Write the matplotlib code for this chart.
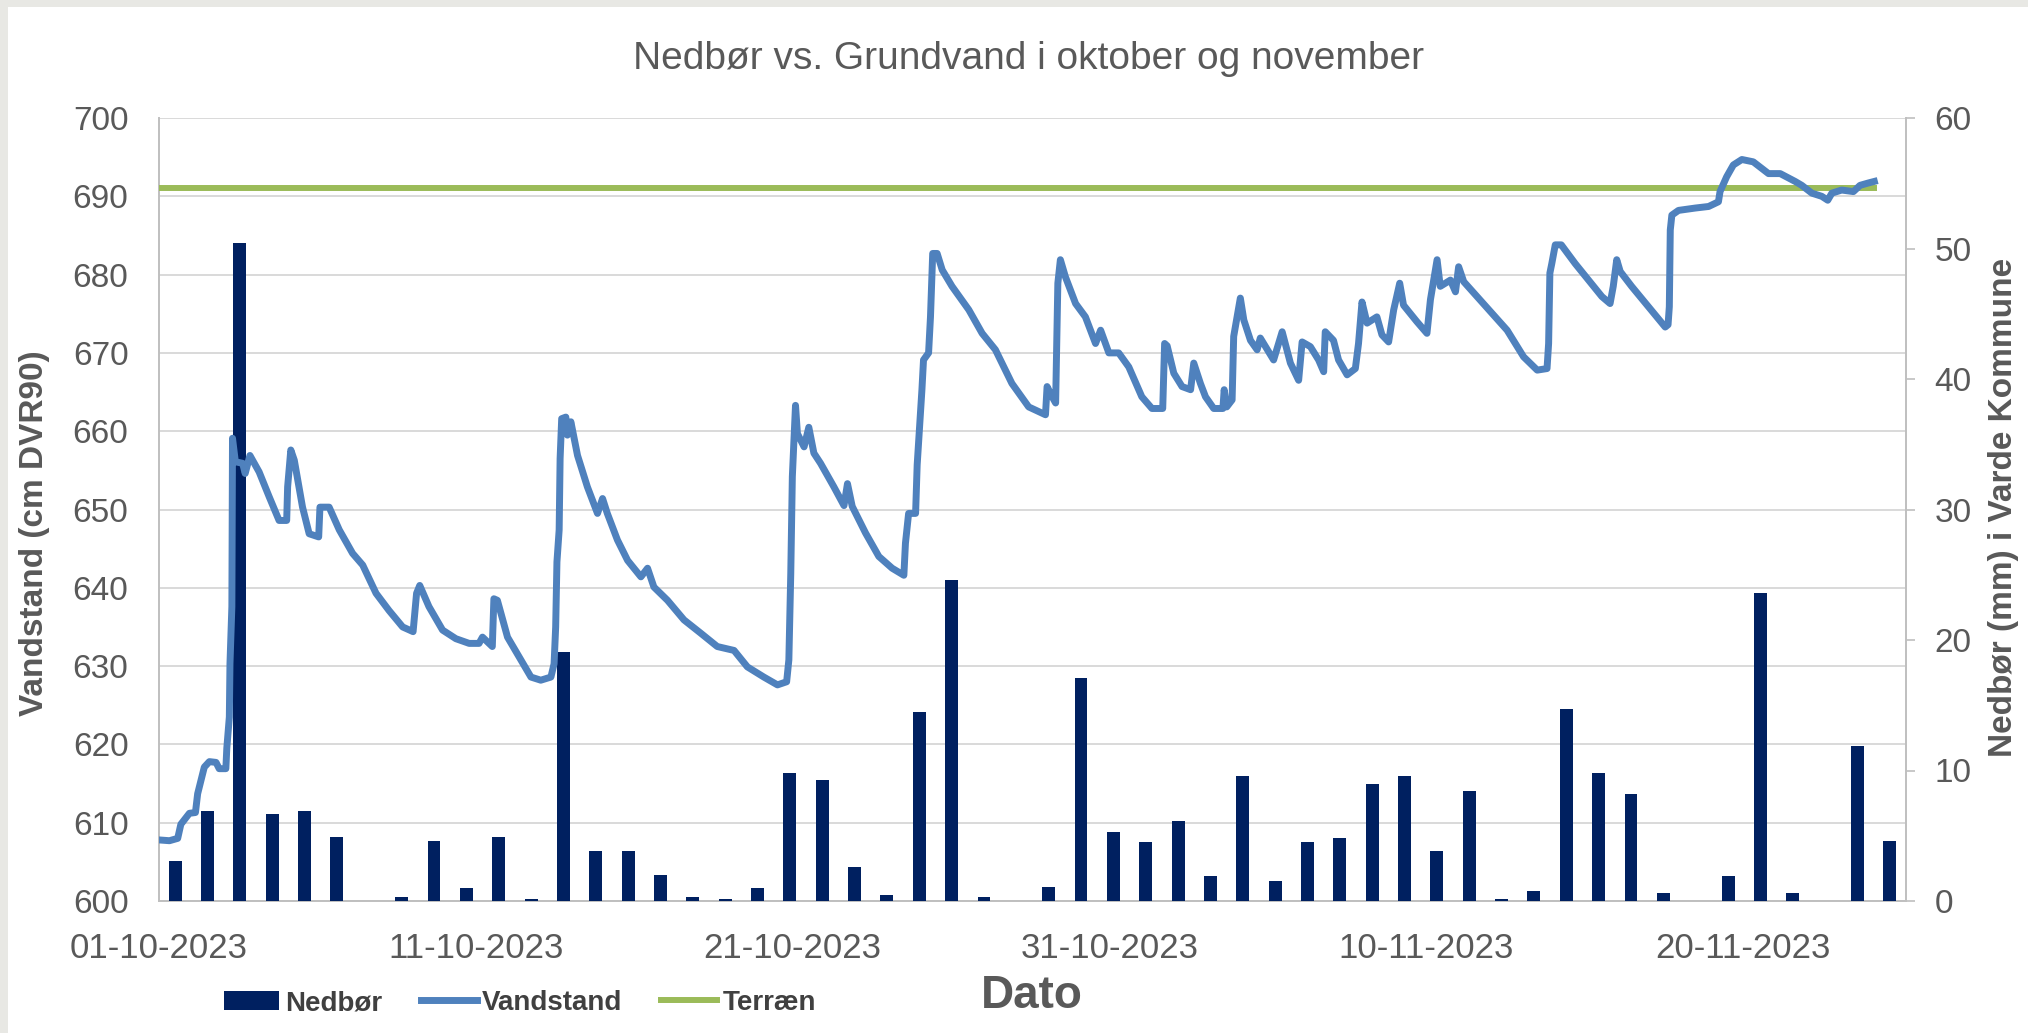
import datetime
import matplotlib
matplotlib.use("Agg")
import matplotlib.pyplot as plt
import matplotlib.dates as mdates
from matplotlib.patches import Rectangle

plt.rcParams['font.family'] = ['Liberation Sans', 'DejaVu Sans']

# daily precipitation (mm), one bar per day
nedboer = [3.1, 6.9, 50.4, 6.7, 6.9, 4.9, 0, 0.3, 4.6, 1.0,
           4.9, 0.15, 19.1, 3.8, 3.8, 2.0, 0.3, 0.15, 1.0, 9.8,
           9.3, 2.6, 0.45, 14.5, 24.6, 0.3, 0, 1.1, 17.1, 5.3,
           4.5, 6.1, 1.9, 9.6, 1.5, 4.5, 4.8, 9.0, 9.6, 3.85,
           8.4, 0.15, 0.8, 14.7, 9.8, 8.2, 0.65, 0, 1.9, 23.6,
           0.65, 0, 11.9, 4.6]

# groundwater level, days since 01-10-2023 and cm DVR90
vand_dage = [0.0, 0.33, 0.59, 0.69, 0.96, 1.15, 1.22, 1.43, 1.59, 1.80,
             1.90, 2.11, 2.14, 2.22, 2.24, 2.30, 2.32, 2.41, 2.64, 2.72,
             2.87, 3.16, 3.48, 3.79, 4.03, 4.06, 4.16, 4.27, 4.53, 4.74,
             5.04, 5.08, 5.37, 5.69, 6.11, 6.43, 6.85, 7.26, 7.69, 8.02,
             8.13, 8.23, 8.52, 8.95, 9.37, 9.79, 10.10, 10.21, 10.42, 10.52,
             10.57, 10.68, 11.0, 11.42, 11.74, 12.05, 12.37, 12.47, 12.52, 12.56,
             12.63, 12.66, 12.71, 12.84, 12.89, 13.0, 13.21, 13.52, 13.84, 14.0,
             14.15, 14.47, 14.79, 15.21, 15.42, 15.62, 16.05, 16.57, 17.10, 17.62,
             18.15, 18.57, 19.09, 19.52, 19.81, 19.88, 19.94, 19.99, 20.09, 20.15,
             20.36, 20.51, 20.67, 20.88, 21.30, 21.62, 21.73, 21.88, 22.30, 22.72,
             23.14, 23.51, 23.56, 23.66, 23.88, 23.93, 24.0, 24.08, 24.13, 24.29,
             24.35, 24.42, 24.56, 24.72, 25.03, 25.56, 25.98, 26.40, 26.92, 27.45,
             27.98, 28.03, 28.19, 28.30, 28.37, 28.45, 28.61, 28.93, 29.24, 29.56,
             29.72, 29.98, 30.29, 30.61, 31.02, 31.34, 31.68, 31.74, 31.82, 32.03,
             32.29, 32.56, 32.66, 32.87, 33.03, 33.29, 33.58, 33.62, 33.70, 33.87,
             33.92, 34.13, 34.24, 34.45, 34.66, 34.76, 35.18, 35.45, 35.71, 35.97,
             36.08, 36.34, 36.60, 36.76, 36.81, 37.07, 37.23, 37.50, 37.76, 37.86,
             37.97, 38.13, 38.44, 38.60, 38.81, 38.97, 39.16, 39.28, 39.70, 40.02,
             40.13, 40.34, 40.44, 40.76, 40.92, 41.02, 41.18, 41.60, 42.13, 42.55,
             43.07, 43.50, 43.81, 43.86, 43.90, 43.96, 44.07, 44.26, 44.70, 45.12,
             45.54, 45.80, 45.90, 46.01, 46.12, 46.48, 47.01, 47.54, 47.63, 47.67,
             47.70, 47.75, 47.96, 48.49, 48.91, 49.22, 49.27, 49.48, 49.69, 49.96,
             50.32, 50.80, 51.17, 51.64, 51.85, 52.17, 52.48, 52.67, 52.80, 53.11,
             53.48, 53.69, 53.95, 54.14]
vandstand = [607.8, 607.7, 608.0, 609.8, 611.2, 611.3, 613.7, 617.1, 617.8, 617.7,
             616.9, 616.9, 619.5, 623.5, 630.3, 637.6, 659.1, 656.1, 655.9, 654.6,
             656.9, 654.8, 651.6, 648.6, 648.6, 652.9, 657.6, 656.3, 650.3, 646.9,
             646.5, 650.3, 650.3, 647.4, 644.4, 642.9, 639.3, 637.1, 635.0, 634.4,
             639.3, 640.3, 637.6, 634.6, 633.5, 632.9, 632.9, 633.7, 632.9, 632.5,
             638.6, 638.4, 633.7, 630.8, 628.6, 628.2, 628.6, 630.3, 635.0, 643.3,
             647.4, 656.5, 661.6, 661.8, 659.5, 661.2, 656.9, 652.9, 649.5, 651.4,
             649.5, 646.1, 643.5, 641.4, 642.5, 640.1, 638.4, 635.9, 634.2, 632.5,
             632.0, 629.9, 628.6, 627.6, 628.0, 630.8, 641.8, 654.2, 663.3, 659.7,
             658.0, 660.5, 657.2, 655.9, 652.9, 650.5, 653.3, 650.4, 647.0, 644.0,
             642.5, 641.6, 645.7, 649.5, 649.5, 655.7, 660.2, 665.3, 669.1, 670.0,
             674.6, 682.7, 682.7, 680.6, 678.5, 675.5, 672.5, 670.4, 666.1, 663.1,
             662.1, 665.7, 664.4, 663.6, 678.9, 681.9, 679.7, 676.3, 674.6, 671.2,
             672.9, 670.0, 670.0, 668.2, 664.4, 662.9, 662.9, 671.2, 670.9, 667.4,
             665.7, 665.3, 668.7, 666.1, 664.4, 662.9, 662.9, 665.3, 663.1, 664.0,
             672.1, 677.0, 674.2, 671.6, 670.4, 671.9, 669.1, 672.7, 668.7, 666.5,
             671.4, 670.8, 669.1, 667.6, 672.7, 671.6, 669.1, 667.2, 668.0, 671.2,
             676.5, 673.8, 674.6, 672.3, 671.4, 675.5, 678.9, 676.1, 674.0, 672.5,
             676.8, 681.9, 678.5, 679.3, 677.8, 681.0, 679.1, 677.2, 674.8, 672.9,
             669.5, 667.8, 668.0, 671.2, 680.2, 681.4, 683.8, 683.8, 681.4, 679.3,
             677.2, 676.3, 678.5, 681.9, 680.4, 678.5, 675.9, 673.3, 673.6, 675.9,
             685.7, 687.6, 688.2, 688.5, 688.7, 689.3, 690.6, 692.5, 694.0, 694.7,
             694.4, 692.9, 692.9, 691.9, 691.4, 690.4, 690.0, 689.5, 690.4, 690.8,
             690.6, 691.4, 691.7, 691.9]

terraen_dage = [0.0, 54.14]
terraen = [691.1, 691.1]

start = datetime.datetime(2023, 10, 1)
x_start = mdates.date2num(start)
vand_x = [x_start + d for d in vand_dage]
terraen_x = [x_start + d for d in terraen_dage]

grey = '#595959'
fig = plt.figure(figsize=(20.28, 10.33), dpi=100)
fig.patch.set_facecolor('#e8e8e4')
fig.add_artist(Rectangle((8 / 2028, 0), 1, 1 - 7 / 1033, transform=fig.transFigure,
                         facecolor='white', edgecolor='none', zorder=-10))

rect = [159 / 2028, 132 / 1033, 1747 / 2028, 783 / 1033]

# base axes: grid, left axis, dates
ax = fig.add_axes(rect)
ax.set_facecolor('white')
ax.set_ylim(600, 700)
ax.set_yticks(range(600, 701, 10))
ax.set_xlim(x_start, x_start + 55.14)
ax.set_xticks([x_start + d for d in range(0, 51, 10)])
ax.xaxis.set_major_formatter(mdates.DateFormatter('%d-%m-%Y'))
ax.grid(axis='y', color='#d9d9d9', linewidth=1.4)
ax.set_axisbelow(True)
ax.tick_params(axis='y', length=0, pad=22, labelsize=24, labelcolor=grey)
ax.tick_params(axis='x', length=0, pad=22, labelsize=25, labelcolor=grey)
for s in ['top', 'right']:
    ax.spines[s].set_visible(False)
for s in ['left', 'bottom']:
    ax.spines[s].set_color('#bfbfbf')
    ax.spines[s].set_linewidth(1.4)

# precipitation bars on their own category axis
axb = fig.add_axes(rect, facecolor='none')
axb.bar([i + 0.5 for i in range(len(nedboer))], nedboer, width=0.4,
        color='#002060', label='Nedbør')
axb.set_xlim(0, len(nedboer))
axb.set_ylim(0, 60)
axb.set_xticks([])
axb.yaxis.tick_right()
axb.set_yticks(range(0, 61, 10))
axb.tick_params(axis='y', length=6.5, width=1.2, color='#bfbfbf', pad=14,
                labelsize=24, labelcolor=grey)
for s in ['top', 'left', 'bottom']:
    axb.spines[s].set_visible(False)
axb.spines['right'].set_color('#bfbfbf')
axb.spines['right'].set_linewidth(1.4)

# level lines on top
axl = fig.add_axes(rect, facecolor='none', sharex=ax, sharey=ax)
axl.plot(terraen_x, terraen, color='#9bbb59', linewidth=4.3, label='Terræn')
axl.plot(vand_x, vandstand, color='#4f81bd', linewidth=5, label='Vandstand')
axl.axis('off')

fig.text(0.507, 0.943, 'Nedbør vs. Grundvand i oktober og november',
         ha='center', va='center', fontsize=28, color=grey)
fig.text(0.017, 0.484, 'Vandstand (cm DVR90)', rotation=90, ha='center', va='center',
         fontsize=24, fontweight='bold', color=grey)
fig.text(0.988, 0.509, 'Nedbør (mm) i Varde Kommune', rotation=90, ha='center',
         va='center', fontsize=24, fontweight='bold', color=grey)
fig.text(0.509, 0.036, 'Dato', ha='center', va='center', fontsize=33,
         fontweight='bold', color=grey)

handles = [axb.patches[0], axl.lines[1], axl.lines[0]]
leg = fig.legend(handles, ['Nedbør', 'Vandstand', 'Terræn'], loc='center',
                 bbox_to_anchor=(0.2564, 0.029), ncol=3, frameon=False,
                 fontsize=20, handlelength=2.0, handletextpad=0.2,
                 columnspacing=1.4, borderaxespad=0)
for t in leg.get_texts():
    t.set_fontweight('bold')
    t.set_color('#404040')

plt.savefig('out.png', dpi=100)
